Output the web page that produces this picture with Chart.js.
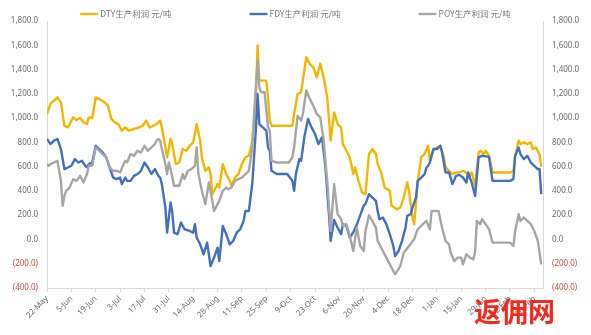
<!DOCTYPE html>
<html>
<head>
<meta charset="utf-8">
<script src="https://cdn.jsdelivr.net/npm/chart.js@4.4.1/dist/chart.umd.min.js"></script>
<style>
  html, body { margin: 0; padding: 0; background: #fff; }
  #wrap { position: relative; width: 591px; height: 335px; }
  #mark {
    position: absolute; left: 474px; top: 297px;
    font: bold 27px "Noto Sans CJK SC", sans-serif; line-height: 1;
    color: #f5281e; letter-spacing: 0px;
  }
</style>
</head>
<body>
<div id="wrap">
  <canvas id="chart" width="591" height="335"></canvas>
  <div id="mark">返佣网</div>
</div>
<script>
// x values are days counted from 22-May
const tickLabels = ['22-May', '5-Jun', '19-Jun', '3-Jul', '17-Jul', '31-Jul', '14-Aug', '28-Aug',
  '11-Sep', '25-Sep', '9-Oct', '23-Oct', '6-Nov', '20-Nov', '4-Dec', '18-Dec', '1-Jan', '15-Jan',
  '29-Jan', '12-Feb', '26-Feb'];

const seriesNames = ['DTY生产利润 元/吨', 'FDY生产利润 元/吨', 'POY生产利润 元/吨'];

const dtyDays = [
  0, 2, 6, 8, 10, 12, 15, 17, 19, 21,
  23, 24, 26, 28, 30, 33, 35, 37, 39, 41,
  43, 45, 47, 50, 53, 55, 57, 59, 61, 63,
  65, 66, 68, 69, 71, 72, 74, 76, 78, 80,
  82, 84, 86, 88, 89, 91, 93, 94, 95, 96,
  98, 99, 101, 103, 105, 106, 108, 110, 112, 114,
  116, 118, 120, 121, 122, 124, 126, 127, 128, 129,
  133, 141, 142, 144, 146, 147, 149, 151, 153, 155,
  157, 159, 161, 163, 165, 167, 169, 170, 172, 174,
  176, 177, 179, 181, 183, 185, 187, 189, 190, 192,
  194, 197, 198, 201, 203, 205, 207, 208, 210, 211,
  213, 215, 217, 219, 220, 222, 224, 226, 228, 229,
  231, 233, 235, 237, 239, 241, 242, 244, 246, 248,
  249, 251, 252, 254, 256, 260, 266, 268, 269, 271,
  272, 274, 276, 278, 279, 281, 283, 284];
const dtyProfit = [
  1034, 1117, 1171, 1130, 937, 923, 1006, 985, 1001, 965,
  951, 1006, 1001, 1171, 1158, 1130, 1103, 993, 965, 951,
  896, 923, 896, 910, 923, 937, 979, 923, 937, 951,
  979, 923, 758, 676, 828, 786, 621, 634, 745, 731,
  772, 800, 951, 814, 676, 566, 593, 539, 373, 401,
  456, 428, 621, 539, 483, 442, 510, 539, 621, 676,
  690, 814, 1171, 1598, 1309, 1309, 1309, 1171, 979, 937,
  937, 937, 1034, 1199, 1213, 1309, 1502, 1447, 1419, 1336,
  1447, 1336, 1171, 814, 1047, 951, 923, 786, 731, 676,
  539, 593, 483, 387, 373, 704, 745, 704, 621, 552,
  428, 401, 277, 249, 263, 345, 469, 401, 180, 126,
  469, 676, 704, 772, 648, 731, 758, 772, 680, 593,
  566, 539, 552, 552, 566, 552, 510, 552, 442, 717,
  731, 704, 731, 690, 552, 552, 552, 566, 690, 814,
  786, 800, 786, 800, 745, 758, 700, 600];

const fdyDays = [
  0, 2, 4, 6, 8, 10, 12, 14, 16, 18,
  20, 22, 23, 24, 26, 28, 30, 32, 34, 36,
  38, 40, 42, 43, 45, 46, 48, 50, 52, 54,
  56, 58, 60, 62, 64, 65, 66, 68, 69, 71,
  72, 73, 75, 77, 79, 82, 84, 85, 86, 88,
  90, 92, 94, 96, 98, 99, 101, 103, 105, 107,
  109, 111, 113, 114, 116, 118, 120, 121, 122, 124,
  126, 127, 128, 129, 132, 138, 141, 142, 143, 145,
  146, 148, 150, 152, 154, 156, 158, 160, 162, 163,
  165, 167, 169, 170, 172, 174, 176, 178, 180, 182,
  183, 185, 187, 189, 190, 191, 193, 195, 197, 199,
  200, 202, 204, 206, 207, 209, 210, 212, 213, 215,
  217, 218, 219, 220, 222, 224, 226, 227, 228, 229,
  231, 233, 235, 237, 239, 241, 242, 244, 246, 248,
  250, 254, 256, 260, 266, 268, 269, 271, 272, 274,
  276, 278, 280, 282, 283, 284];
const fdyProfit = [
  828, 786, 814, 828, 745, 580, 593, 607, 662, 634,
  648, 607, 593, 621, 634, 772, 745, 717, 676, 593,
  510, 497, 510, 456, 510, 483, 483, 524, 539, 566,
  634, 593, 539, 580, 524, 510, 456, 263, 56, 304,
  221, 56, 43, 139, 84, 70, 56, 126, 15, -40,
  -122, -26, -219, -150, -68, -178, 112, 43, -40, -12,
  56, 84, 153, 235, 235, 469, 900, 1199, 951, 923,
  896, 758, 731, 566, 539, 539, 483, 401, 539, 662,
  648, 855, 993, 923, 869, 786, 841, 593, 208, -12,
  160, 97, 43, 126, 112, 15, 60, 120, 200, 280,
  291, 373, 345, 318, 235, 167, 180, 126, 43, -54,
  -136, -95, -12, 97, 194, 208, 263, 345, 483, 510,
  539, 593, 607, 634, 745, 745, 772, 717, 634, 552,
  552, 456, 524, 532, 510, 469, 552, 469, 359, 676,
  690, 680, 483, 483, 483, 497, 690, 758, 704, 662,
  690, 634, 607, 580, 580, 373];

const poyDays = [
  0, 1, 2, 4, 6, 8, 9, 10, 11, 13,
  15, 17, 19, 21, 23, 24, 26, 28, 30, 32,
  34, 36, 38, 40, 42, 44, 45, 46, 48, 50,
  52, 54, 56, 58, 60, 62, 63, 64, 65, 66,
  68, 69, 70, 71, 73, 76, 78, 79, 81, 83,
  85, 86, 87, 89, 91, 93, 95, 96, 98, 99,
  101, 103, 104, 106, 108, 110, 112, 114, 116, 118,
  119, 121, 122, 123, 125, 127, 128, 129, 132, 139,
  141, 142, 144, 146, 147, 149, 151, 153, 155, 157,
  159, 161, 163, 165, 167, 169, 170, 172, 174, 176,
  178, 180, 182, 183, 185, 187, 189, 190, 193, 197,
  200, 203, 205, 208, 211, 213, 216, 218, 220, 221,
  225, 227, 229, 231, 232, 234, 236, 238, 239, 241,
  243, 245, 246, 247, 249, 250, 252, 254, 256, 266,
  268, 269, 271, 272, 274, 276, 278, 280, 282, 284];
const poyProfit = [
  621, 607, 621, 634, 648, 483, 277, 359, 401, 428,
  497, 483, 524, 469, 539, 607, 607, 758, 731, 704,
  676, 593, 566, 566, 552, 621, 648, 634, 704, 690,
  731, 717, 772, 731, 758, 786, 814, 828, 814, 745,
  621, 539, 634, 580, 442, 442, 539, 497, 566, 580,
  607, 758, 539, 401, 291, 469, 318, 235, 291, 318,
  401, 428, 414, 428, 483, 497, 510, 539, 566, 758,
  1034, 1474, 1254, 1213, 1213, 923, 896, 648, 634, 634,
  676, 760, 1020, 979, 1034, 1227, 1158, 1103, 1034, 1006,
  814, 483, 70, 456, 208, 167, 112, 126, 29, -95,
  97, -54, -95, 70, 200, 150, 97, -12, -95, -205,
  -287, -219, -109, -54, 2, 84, 126, 153, 84, 235,
  235, 97, -12, -40, -109, -178, -150, -150, -205, -122,
  -150, -164, -100, 153, 126, 167, 126, 84, -26, -26,
  -54, 70, 208, 153, 180, 153, 126, 70, -12, -205];

const yMin = -400;
const yMax = 1800;

function points(days, values) {
  return days.map((d, i) => ({ x: d, y: values[i] }));
}

function fmtNum(v) {
  const s = Math.abs(v).toLocaleString('en-US', { minimumFractionDigits: 1, maximumFractionDigits: 1 });
  return v < 0 ? '(' + s + ')' : s;
}

const tickFont = { family: '"Noto Sans", sans-serif', size: 8 };
const axisGrey = '#d9d9d9';
const labelGrey = '#6b6b6b';
const negRed = '#d9483f';

// legend row drawn above the plot
const topLegend = {
  id: 'topLegend',
  afterDraw(chart) {
    const ctx = chart.ctx;
    ctx.save();
    ctx.font = '8.5px "Noto Sans CJK SC", sans-serif';
    const items = chart.data.datasets.map(ds => ({
      label: ds.label,
      color: ds.borderColor,
      w: 20 + ctx.measureText(ds.label).width
    }));
    const gap = 78;
    const total = items.reduce((s, it) => s + it.w, 0) + gap * (items.length - 1);
    let x = (chart.width - total) / 2;
    const y = 14;
    for (const it of items) {
      ctx.strokeStyle = it.color;
      ctx.lineWidth = 2.4;
      ctx.beginPath();
      ctx.moveTo(x, y);
      ctx.lineTo(x + 18, y);
      ctx.stroke();
      ctx.fillStyle = '#7a7a7a';
      ctx.textBaseline = 'middle';
      ctx.fillText(it.label, x + 20, y);
      x += it.w + gap;
    }
    ctx.restore();
  }
};

function lineSet(label, days, values, color, order) {
  return {
    label,
    data: points(days, values),
    borderColor: color,
    backgroundColor: color,
    borderWidth: 2.4,
    borderJoinStyle: 'round',
    pointRadius: 0,
    tension: 0,
    order
  };
}

const yTicks = {
  stepSize: 200,
  padding: 9,
  font: tickFont,
  color: ctx => (ctx.tick.value < 0 ? negRed : labelGrey),
  callback: v => fmtNum(v)
};

new Chart(document.getElementById('chart'), {
  type: 'line',
  data: {
    datasets: [
      lineSet(seriesNames[0], dtyDays, dtyProfit, '#f2b800', 3),
      lineSet(seriesNames[1], fdyDays, fdyProfit, '#4470c0', 2),
      lineSet(seriesNames[2], poyDays, poyProfit, '#a6a6a6', 1)
    ]
  },
  options: {
    responsive: false,
    animation: false,
    layout: { padding: { top: 21, left: 0, right: 0, bottom: 0 } },
    plugins: { legend: { display: false }, tooltip: { enabled: false } },
    scales: {
      x: {
        type: 'linear',
        min: 0,
        max: 285,
        afterFit: s => { s.height = 47; },
        grid: { drawOnChartArea: false, tickLength: 4, color: axisGrey },
        border: { color: axisGrey },
        ticks: {
          stepSize: 14,
          includeBounds: false,
          autoSkip: false,
          minRotation: 45,
          maxRotation: 45,
          padding: 2,
          font: tickFont,
          color: labelGrey,
          callback: v => tickLabels[v / 14] ?? ''
        }
      },
      y: {
        position: 'left',
        min: yMin,
        max: yMax,
        afterFit: s => { s.width = 47; },
        grid: { drawOnChartArea: false, drawTicks: false, color: axisGrey },
        border: { color: axisGrey },
        ticks: yTicks
      },
      y2: {
        position: 'right',
        min: yMin,
        max: yMax,
        afterFit: s => { s.width = 48; },
        grid: { drawOnChartArea: false, drawTicks: false, color: axisGrey },
        border: { color: axisGrey },
        ticks: yTicks
      }
    }
  },
  plugins: [topLegend]
});
</script>
</body>
</html>
